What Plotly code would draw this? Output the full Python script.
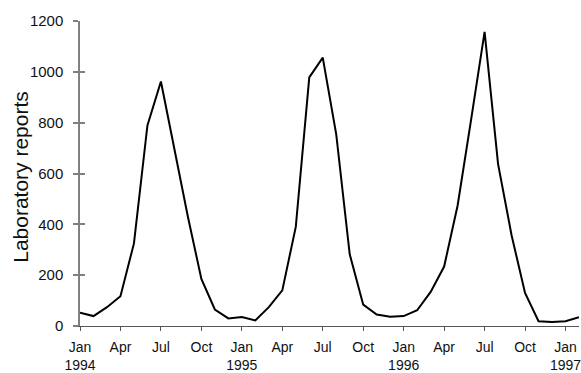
import plotly.graph_objects as go

# Monthly laboratory reports, Jan 1994 - Feb 1997
months = [
    "1994-01", "1994-02", "1994-03", "1994-04", "1994-05", "1994-06",
    "1994-07", "1994-08", "1994-09", "1994-10", "1994-11", "1994-12",
    "1995-01", "1995-02", "1995-03", "1995-04", "1995-05", "1995-06",
    "1995-07", "1995-08", "1995-09", "1995-10", "1995-11", "1995-12",
    "1996-01", "1996-02", "1996-03", "1996-04", "1996-05", "1996-06",
    "1996-07", "1996-08", "1996-09", "1996-10", "1996-11", "1996-12",
    "1997-01", "1997-02",
]
reports = [
    52, 39, 74, 117, 325, 789, 962, 696, 430, 185, 65, 30,
    35, 22, 74, 140, 390, 978, 1056, 754, 282, 84, 45, 36,
    39, 62, 134, 234, 474, 812, 1157, 637, 357, 130, 19, 16,
    19, 35,
]

tick_months = ["1994-01", "1994-04", "1994-07", "1994-10",
               "1995-01", "1995-04", "1995-07", "1995-10",
               "1996-01", "1996-04", "1996-07", "1996-10", "1997-01"]
tick_labels = ["Jan<br>1994", "Apr", "Jul", "Oct",
               "Jan<br>1995", "Apr", "Jul", "Oct",
               "Jan<br>1996", "Apr", "Jul", "Oct", "Jan<br>1997"]
y_ticks = [0, 200, 400, 600, 800, 1000, 1200]

FONT = "Liberation Sans, Arial, sans-serif"
L, R, T, B, W, H = 80, 0, 21, 44, 581, 373

fig = go.Figure()
fig.add_trace(go.Scatter(
    x=months, y=reports, mode="lines",
    line=dict(color="black", width=2),
    cliponaxis=False, showlegend=False,
))
# invisible companion trace so the inner half of the y ticks can be drawn
fig.add_trace(go.Scatter(
    x=months, y=reports, mode="lines", yaxis="y2",
    line=dict(width=0), opacity=0, hoverinfo="skip", showlegend=False,
))

fig.update_layout(
    width=W, height=H,
    margin=dict(l=L, r=R, t=T, b=B),
    paper_bgcolor="white", plot_bgcolor="white",
    font=dict(family=FONT, size=14, color="#111111"),
    xaxis=dict(
        type="category", range=[0, len(months) - 1],
        tickmode="array", tickvals=tick_months, ticktext=tick_labels,
        ticks="outside", ticklen=4, tickcolor="#555555", tickwidth=1,
        showline=True, linecolor="#555555", linewidth=1,
        showgrid=False, zeroline=False,
        tickfont=dict(size=14), ticklabelstandoff=4,
    ),
    yaxis=dict(
        range=[0, 1200], tickvals=y_ticks,
        ticks="outside", ticklen=5, tickcolor="#808080", tickwidth=1.5,
        showline=True, linecolor="#808080", linewidth=1.5,
        showgrid=False, zeroline=False,
        tickfont=dict(size=15), ticklabelstandoff=7,
    ),
    yaxis2=dict(
        overlaying="y", side="left", range=[0, 1200], tickvals=y_ticks,
        ticks="inside", ticklen=5, tickcolor="#808080", tickwidth=1.5,
        showticklabels=False, showline=False, showgrid=False, zeroline=False,
    ),
    annotations=[dict(
        text="Laboratory reports", textangle=-90,
        xref="paper", yref="paper",
        x=(20 - L) / (W - L - R), y=0.49,
        xanchor="center", yanchor="middle", showarrow=False,
        font=dict(size=21, family=FONT, color="#111111"),
    )],
)

fig.write_html("out.html")
